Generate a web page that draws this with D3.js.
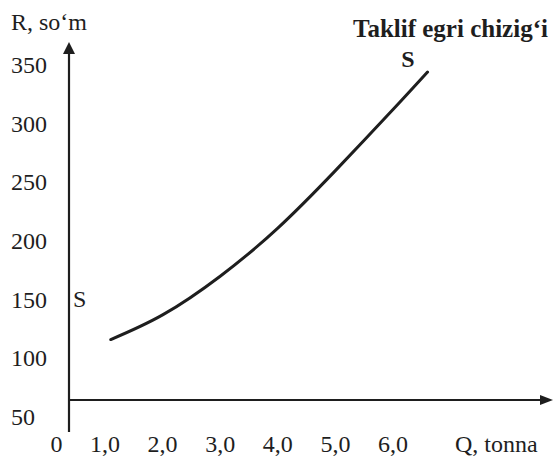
<!DOCTYPE html>
<html>
<head>
<meta charset="utf-8">
<script src="https://cdn.jsdelivr.net/npm/d3@7"></script>
<style>
  html, body { margin: 0; padding: 0; background: #fff; }
  text { font-family: "Liberation Serif", "Times New Roman", serif; fill: #1e1e1e; }
</style>
</head>
<body>
<svg width="558" height="460"></svg>
<script>
// supply curve
const qValues = [1.1, 2.0, 3.0, 4.0, 5.0, 6.0, 6.6];
const pValues = [116, 137, 170, 211, 260, 312, 344];

const qTicks = [0, 1, 2, 3, 4, 5, 6];
const qTickLabels = ["0", "1,0", "2,0", "3,0", "4,0", "5,0", "6,0"];
const pTicks = [350, 300, 250, 200, 150, 100, 50];

const svg = d3.select("svg");
const ink = "#1e1e1e";

const x = d3.scaleLinear().domain([0, 6]).range([47.4, 393]);
const y = d3.scaleLinear().domain([50, 350]).range([417, 65]);

const axisX = 69, axisY = 400;

// axes with arrows
svg.append("line")
    .attr("x1", axisX).attr("y1", 432)
    .attr("x2", axisX).attr("y2", 50)
    .attr("stroke", ink).attr("stroke-width", 2.2);
svg.append("path")
    .attr("d", `M${axisX},42 L${axisX - 6},54 L${axisX + 6},54 Z`)
    .attr("fill", ink);

svg.append("line")
    .attr("x1", axisX).attr("y1", axisY)
    .attr("x2", 544).attr("y2", axisY)
    .attr("stroke", ink).attr("stroke-width", 2.2);
svg.append("path")
    .attr("d", `M553,${axisY} L540,${axisY - 5} L540,${axisY + 5} Z`)
    .attr("fill", ink);

// y labels
svg.selectAll(".ylab")
    .data(pTicks)
    .join("text")
    .attr("class", "ylab")
    .attr("x", 11)
    .attr("y", d => y(d) + 8)
    .attr("font-size", 24)
    .text(d => d);

// x labels
svg.selectAll(".xlab")
    .data(qTicks)
    .join("text")
    .attr("class", "xlab")
    .attr("x", d => x(d) + (d === 0 ? 9 : 0))
    .attr("y", 452)
    .attr("text-anchor", "middle")
    .attr("font-size", 24)
    .text((d, i) => qTickLabels[i]);

// axis titles
svg.append("text")
    .attr("x", 11).attr("y", 30)
    .attr("font-size", 24)
    .text("R, so\u2018m");
svg.append("text")
    .attr("x", 455).attr("y", 452)
    .attr("font-size", 24)
    .text("Q, tonna");

// curve
const line = d3.line()
    .x(d => x(d[0]))
    .y(d => y(d[1]))
    .curve(d3.curveNatural);

svg.append("path")
    .datum(qValues.map((q, i) => [q, pValues[i]]))
    .attr("fill", "none")
    .attr("stroke", ink)
    .attr("stroke-width", 3)
    .attr("stroke-linecap", "round")
    .attr("d", line);

// annotations
svg.append("text")
    .attr("x", 353).attr("y", 37)
    .attr("font-size", 25)
    .attr("font-weight", "bold")
    .text("Taklif egri chizig\u2018i");
svg.append("text")
    .attr("x", 408).attr("y", 67)
    .attr("text-anchor", "middle")
    .attr("font-size", 24)
    .attr("font-weight", "bold")
    .text("S");
svg.append("text")
    .attr("x", 73).attr("y", 307)
    .attr("font-size", 24)
    .text("S");
</script>
</body>
</html>
